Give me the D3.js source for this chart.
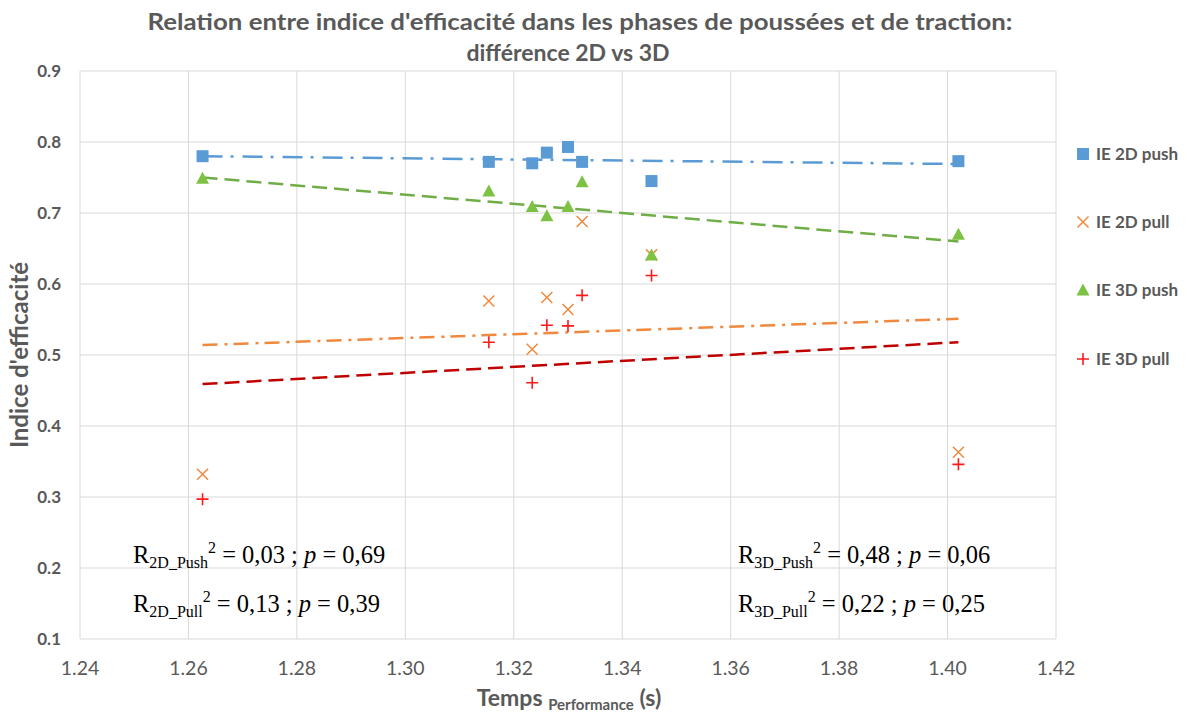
<!DOCTYPE html>
<html>
<head>
<meta charset="utf-8">
<script src="https://cdn.jsdelivr.net/npm/d3@7"></script>
<style>
  body { margin: 0; background: #ffffff; }
  svg { display: block; }
</style>
</head>
<body>
<svg id="chart" width="1187" height="716"></svg>
<script>
// Temps de performance (s) par sujet
const temps = [1.2626, 1.3154, 1.3234, 1.3261, 1.3300, 1.3326, 1.3454, 1.4020];

const ie2dPush = [0.780, 0.772, 0.770, 0.785, 0.793, 0.772, 0.745, 0.773];
const ie2dPull = [0.332, 0.576, 0.508, 0.581, 0.564, 0.688, 0.641, 0.363];
const ie3dPush = [0.749, 0.731, 0.709, 0.696, 0.709, 0.744, 0.641, 0.670];
const ie3dPull = [0.297, 0.518, 0.461, 0.542, 0.541, 0.584, 0.612, 0.346];

// trendline ends (x = first / last temps)
const trend2dPush = [0.780, 0.769];
const trend2dPull = [0.514, 0.551];
const trend3dPush = [0.750, 0.660];
const trend3dPull = [0.459, 0.518];

const xTicks = [1.24, 1.26, 1.28, 1.30, 1.32, 1.34, 1.36, 1.38, 1.40, 1.42];
const yTicks = [0.1, 0.2, 0.3, 0.4, 0.5, 0.6, 0.7, 0.8, 0.9];

const series = [
  { name: "IE 2D push", values: ie2dPush, trend: trend2dPush, shape: "square", color: "#5B9BD5", trendColor: "#5B9BD5", dash: "20,8,3,9" },
  { name: "IE 2D pull", values: ie2dPull, trend: trend2dPull, shape: "cross", color: "#F0883E", trendColor: "#F0883E", dash: "15,7,3,6" },
  { name: "IE 3D push", values: ie3dPush, trend: trend3dPush, shape: "triangle", color: "#7DC242", trendColor: "#70AD47", dash: "15,7" },
  { name: "IE 3D pull", values: ie3dPull, trend: trend3dPull, shape: "plus", color: "#FF1A1A", trendColor: "#C00000", dash: "15,7" }
];

const svg = d3.select("#chart");
const gray = "#595959";
const font = "Lato, 'Open Sans', sans-serif";

const x = d3.scaleLinear().domain([1.24, 1.42]).range([80, 1056]);
const y = d3.scaleLinear().domain([0.1, 0.9]).range([639, 71]);

// gridlines
svg.append("g").selectAll("line.h")
  .data(yTicks)
  .enter().append("line")
  .attr("x1", x(1.24)).attr("x2", x(1.42))
  .attr("y1", d => y(d)).attr("y2", d => y(d))
  .attr("stroke", "#d9d9d9").attr("stroke-width", 1);

svg.append("g").selectAll("line.v")
  .data(xTicks)
  .enter().append("line")
  .attr("x1", d => x(d)).attr("x2", d => x(d))
  .attr("y1", y(0.9)).attr("y2", y(0.1))
  .attr("stroke", "#d9d9d9").attr("stroke-width", 1);

// tick labels
svg.append("g").selectAll("text")
  .data(yTicks)
  .enter().append("text")
  .attr("x", 61).attr("y", d => y(d) + 6)
  .attr("text-anchor", "end")
  .attr("font-family", font)
  .attr("font-weight", "bold")
  .attr("font-size", "17px")
  .attr("fill", gray)
  .text(d => d.toFixed(1));

svg.append("g").selectAll("text")
  .data(xTicks)
  .enter().append("text")
  .attr("x", d => x(d)).attr("y", 675)
  .attr("text-anchor", "middle")
  .attr("font-family", font)
  .attr("font-size", "19.5px")
  .attr("fill", gray)
  .text(d => d.toFixed(2));

// title
const title = svg.append("text")
  .attr("text-anchor", "middle")
  .attr("font-family", font)
  .attr("font-weight", "bold")
  .attr("font-size", "23px")
  .attr("fill", gray);
title.append("tspan").attr("x", 580).attr("y", 30)
  .attr("textLength", 865).attr("lengthAdjust", "spacingAndGlyphs")
  .text("Relation entre indice d'efficacité dans les phases de poussées et de traction:");
title.append("tspan").attr("x", 568).attr("y", 61)
  .text("différence 2D vs 3D");

// axis titles
svg.append("text")
  .attr("transform", `translate(28,${y(0.5)}) rotate(-90)`)
  .attr("text-anchor", "middle")
  .attr("font-family", font)
  .attr("font-weight", "bold")
  .attr("font-size", "24px")
  .attr("fill", gray)
  .text("Indice d'efficacité");

const xt = svg.append("text")
  .attr("x", 569).attr("y", 706)
  .attr("text-anchor", "middle")
  .attr("font-family", font)
  .attr("font-weight", "bold")
  .attr("font-size", "23px")
  .attr("fill", gray);
xt.append("tspan").text("Temps ");
xt.append("tspan").attr("font-size", "15px").attr("dy", 4).text("Performance");
xt.append("tspan").attr("dy", -4).text(" (s)");

// trendlines
series.forEach(s => {
  svg.append("line")
    .attr("x1", x(temps[0])).attr("y1", y(s.trend[0]))
    .attr("x2", x(temps[temps.length - 1])).attr("y2", y(s.trend[1]))
    .attr("stroke", s.trendColor)
    .attr("stroke-width", 2.5)
    .attr("stroke-dasharray", s.dash);
});

function drawMarker(g, shape, color, cx, cy) {
  if (shape === "square") {
    g.append("rect").attr("x", cx - 6).attr("y", cy - 6)
      .attr("width", 12).attr("height", 12).attr("fill", color);
  } else if (shape === "triangle") {
    g.append("path")
      .attr("d", `M${cx},${cy - 6.5} L${cx + 6.5},${cy + 5.5} L${cx - 6.5},${cy + 5.5} Z`)
      .attr("fill", color);
  } else if (shape === "cross") {
    g.append("path")
      .attr("d", `M${cx - 5.5},${cy - 5.5} L${cx + 5.5},${cy + 5.5} M${cx - 5.5},${cy + 5.5} L${cx + 5.5},${cy - 5.5}`)
      .attr("stroke", color).attr("stroke-width", 1.5).attr("fill", "none");
  } else {
    g.append("path")
      .attr("d", `M${cx - 6},${cy} L${cx + 6},${cy} M${cx},${cy - 6} L${cx},${cy + 6}`)
      .attr("stroke", color).attr("stroke-width", 1.6).attr("fill", "none");
  }
}

// markers
series.forEach(s => {
  const g = svg.append("g");
  s.values.forEach((v, i) => drawMarker(g, s.shape, s.color, x(temps[i]), y(v)));
});

// legend
const legendY = [154, 222, 290, 359];
series.forEach((s, i) => {
  const g = svg.append("g");
  drawMarker(g, s.shape, s.color, 1083, legendY[i]);
  g.append("text")
    .attr("x", 1096).attr("y", legendY[i] + 6)
    .attr("font-family", font)
    .attr("font-weight", "bold")
    .attr("font-size", "17px")
    .attr("fill", gray)
    .text(s.name);
});

// stats annotations
const stats = [
  { sub: "2D_Push", txt: " = 0,03 ; ", p: " = 0,69", x: 133, y: 563 },
  { sub: "2D_Pull", txt: " = 0,13 ; ", p: " = 0,39", x: 133, y: 612 },
  { sub: "3D_Push", txt: " = 0,48 ; ", p: " = 0,06", x: 738, y: 563 },
  { sub: "3D_Pull", txt: " = 0,22 ; ", p: " = 0,25", x: 738, y: 612 }
];
stats.forEach(st => {
  const t = svg.append("text")
    .attr("x", st.x).attr("y", st.y)
    .attr("font-family", "'Liberation Serif', 'Times New Roman', serif")
    .attr("font-size", "24.5px")
    .attr("fill", "#000");
  t.append("tspan").text("R");
  t.append("tspan").attr("font-size", "16px").attr("dy", 5).text(st.sub);
  t.append("tspan").attr("font-size", "16px").attr("dy", -15).text("2");
  t.append("tspan").attr("dy", 10).text(st.txt);
  t.append("tspan").attr("font-style", "italic").text("p");
  t.append("tspan").text(st.p);
});
</script>
</body>
</html>
